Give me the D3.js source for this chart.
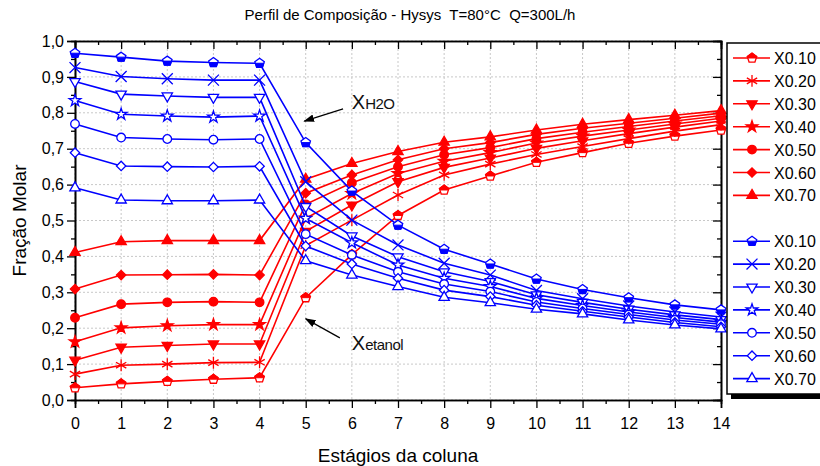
<!DOCTYPE html>
<html>
<head>
<meta charset="utf-8">
<script src="https://cdn.jsdelivr.net/npm/d3@7"></script>
<style>
  body { margin: 0; background: #fff; }
  svg { font-family: "Liberation Sans", Arial, sans-serif; }
  text { white-space: pre; }
</style>
</head>
<body>
<div id="chart"></div>
<script>
// estágios da coluna
const stages = [0, 1, 2, 3, 4, 5, 6, 7, 8, 9, 10, 11, 12, 13, 14];
const seriesLabels = ["X0.10", "X0.20", "X0.30", "X0.40", "X0.50", "X0.60", "X0.70"];
const yTicks = [0, 0.1, 0.2, 0.3, 0.4, 0.5, 0.6, 0.7, 0.8, 0.9, 1.0];

// fração molar de etanol (vermelho)
const etanol10 = [0.034, 0.045, 0.052, 0.058, 0.062, 0.285, 0.405, 0.514, 0.585, 0.624, 0.662, 0.689, 0.715, 0.735, 0.752];
const etanol20 = [0.072, 0.097, 0.100, 0.104, 0.105, 0.430, 0.501, 0.571, 0.627, 0.657, 0.684, 0.706, 0.728, 0.749, 0.767];
const etanol30 = [0.111, 0.147, 0.152, 0.156, 0.156, 0.470, 0.543, 0.608, 0.648, 0.674, 0.701, 0.722, 0.742, 0.760, 0.777];
const etanol40 = [0.162, 0.201, 0.207, 0.210, 0.210, 0.506, 0.575, 0.631, 0.665, 0.689, 0.716, 0.735, 0.752, 0.769, 0.785];
const etanol50 = [0.229, 0.267, 0.272, 0.274, 0.272, 0.545, 0.605, 0.650, 0.683, 0.703, 0.728, 0.746, 0.762, 0.777, 0.792];
const etanol60 = [0.309, 0.348, 0.349, 0.350, 0.348, 0.576, 0.627, 0.669, 0.700, 0.717, 0.740, 0.757, 0.771, 0.785, 0.799];
const etanol70 = [0.411, 0.441, 0.444, 0.444, 0.444, 0.615, 0.659, 0.692, 0.718, 0.733, 0.752, 0.768, 0.781, 0.793, 0.806];

// fração molar de água (azul)
const agua10 = [0.966, 0.955, 0.944, 0.940, 0.938, 0.717, 0.582, 0.487, 0.420, 0.379, 0.337, 0.308, 0.285, 0.265, 0.251];
const agua20 = [0.926, 0.901, 0.895, 0.891, 0.891, 0.608, 0.501, 0.432, 0.381, 0.348, 0.305, 0.282, 0.262, 0.245, 0.231];
const agua30 = [0.887, 0.852, 0.847, 0.843, 0.843, 0.539, 0.457, 0.399, 0.357, 0.330, 0.293, 0.272, 0.253, 0.237, 0.224];
const agua40 = [0.834, 0.796, 0.791, 0.788, 0.791, 0.506, 0.438, 0.376, 0.339, 0.316, 0.283, 0.263, 0.245, 0.230, 0.217];
const agua50 = [0.769, 0.731, 0.727, 0.725, 0.727, 0.462, 0.404, 0.357, 0.323, 0.302, 0.273, 0.255, 0.238, 0.223, 0.211];
const agua60 = [0.689, 0.652, 0.650, 0.649, 0.651, 0.429, 0.379, 0.339, 0.306, 0.288, 0.264, 0.247, 0.231, 0.216, 0.204];
const agua70 = [0.591, 0.557, 0.555, 0.555, 0.557, 0.388, 0.348, 0.316, 0.286, 0.271, 0.253, 0.240, 0.223, 0.209, 0.198];

const etanolSeries = [etanol10, etanol20, etanol30, etanol40, etanol50, etanol60, etanol70];
const aguaSeries = [agua10, agua20, agua30, agua40, agua50, agua60, agua70];

const redMarkers = ["pentTop", "asterisk", "triDown", "star", "circle", "diamond", "triUp"];
const blueMarkers = ["pentBottom", "times", "triDown", "star", "circle", "diamond", "triUp"];
const redFill = [null, null, true, true, true, true, true];
const blueFill = [null, false, false, false, false, false, false];

const RED = "#ff0000", BLUE = "#0000ff";

const W = 820, H = 466;
const margin = { top: 41, right: 99, bottom: 66, left: 75 };
const width = W - margin.left - margin.right;
const height = H - margin.top - margin.bottom;

const svg = d3.select("#chart").append("svg")
    .attr("width", W).attr("height", H);

const g = svg.append("g")
    .attr("transform", "translate(" + margin.left + "," + margin.top + ")");

const x = d3.scaleLinear().domain([0, 14]).range([0, width]);
const y = d3.scaleLinear().domain([0, 1]).range([height, 0]);

const fmt = d => d3.format(".1f")(d).replace(".", ",");

// grid
g.append("g").selectAll("line").data(stages).enter().append("line")
    .attr("x1", d => x(d)).attr("x2", d => x(d))
    .attr("y1", 0).attr("y2", height)
    .attr("stroke", "#c8c8c8").attr("stroke-width", 1).attr("stroke-dasharray", "2,2");
g.append("g").selectAll("line").data(yTicks).enter().append("line")
    .attr("y1", d => y(d)).attr("y2", d => y(d))
    .attr("x1", 0).attr("x2", width)
    .attr("stroke", "#c8c8c8").attr("stroke-width", 1).attr("stroke-dasharray", "2,2");

// axes
const xMinor = d3.range(0.5, 14, 1);
const yMinor = d3.range(0.05, 1, 0.1);

function styleAxis(sel) {
    sel.selectAll("path").attr("stroke", "#000").attr("stroke-width", 1.6);
    sel.selectAll("line").attr("stroke", "#000").attr("stroke-width", 1.3);
    sel.selectAll("text").attr("font-size", 16).attr("fill", "#000")
        .attr("font-family", "Liberation Sans, Arial, sans-serif");
}

g.append("g").attr("transform", "translate(0," + height + ")")
    .call(d3.axisBottom(x).tickValues(xMinor).tickSize(4).tickFormat("")).call(styleAxis);
g.append("g").attr("transform", "translate(0," + height + ")")
    .call(d3.axisBottom(x).tickValues(stages).tickSize(8).tickPadding(10).tickFormat(d3.format("d"))).call(styleAxis);
g.append("g")
    .call(d3.axisLeft(y).tickValues(yMinor).tickSize(4).tickFormat("")).call(styleAxis);
g.append("g")
    .call(d3.axisLeft(y).tickValues(yTicks).tickSize(8).tickPadding(3).tickFormat(fmt)).call(styleAxis);
g.append("g")
    .call(d3.axisTop(x).tickValues(xMinor).tickSize(-4).tickFormat("")).call(styleAxis);
g.append("g")
    .call(d3.axisTop(x).tickValues(stages).tickSize(-8).tickFormat("")).call(styleAxis);
g.append("g").attr("transform", "translate(" + width + ",0)")
    .call(d3.axisRight(y).tickValues(yMinor).tickSize(-4).tickFormat("")).call(styleAxis);
g.append("g").attr("transform", "translate(" + width + ",0)")
    .call(d3.axisRight(y).tickValues(yTicks).tickSize(-8).tickFormat("")).call(styleAxis);

// markers
const sym = (type, size) => d3.symbol().type(type).size(size)();
function pentPts(r) {
    return d3.range(5).map(i => {
        const a = (-90 + i * 72) * Math.PI / 180;
        return [r * Math.cos(a), r * Math.sin(a)];
    });
}
function poly(pts) { return "M" + pts.map(p => p[0].toFixed(2) + "," + p[1].toFixed(2)).join("L") + "Z"; }

function drawMarker(sel, kind, color, filled) {
    const r = 5;
    if (kind === "pentTop" || kind === "pentBottom") {
        const p = pentPts(r);
        sel.append("path").attr("d", poly(p)).attr("fill", "#fff").attr("stroke", color).attr("stroke-width", 1.3);
        const k = 0.851 * r;
        const half = kind === "pentTop"
            ? [p[0], p[1], [k, 0], [-k, 0], p[4]]
            : [[k, 0], p[2], p[3], [-k, 0]];
        sel.append("path").attr("d", poly(half)).attr("fill", color).attr("stroke", color).attr("stroke-width", 1);
        return;
    }
    let d, rot = 0;
    if (kind === "asterisk") d = sym(d3.symbolAsterisk, 100);
    else if (kind === "times") d = sym(d3.symbolTimes, 80);
    else if (kind === "triUp") d = sym(d3.symbolTriangle, 46);
    else if (kind === "triDown") { d = sym(d3.symbolTriangle, 46); rot = 180; }
    else if (kind === "star") d = sym(d3.symbolStar, 42);
    else if (kind === "circle") d = sym(d3.symbolCircle, 58);
    else if (kind === "diamond") { d = sym(d3.symbolSquare, 44); rot = 45; }
    const line = kind === "asterisk" || kind === "times";
    sel.append("path").attr("d", d)
        .attr("transform", rot ? "rotate(" + rot + ")" : null)
        .attr("fill", line ? "none" : (filled ? color : "#fff"))
        .attr("stroke", color).attr("stroke-width", 1.3);
}

const lineGen = d3.line().x((d, i) => x(stages[i])).y(d => y(d));

function drawSeries(series, markers, fills, color) {
    series.forEach(vals => {
        g.append("path").datum(vals)
            .attr("fill", "none").attr("stroke", color).attr("stroke-width", 1.6)
            .attr("d", lineGen);
    });
    series.forEach((vals, k) => {
        g.append("g").selectAll("g").data(vals).enter().append("g")
            .attr("transform", (d, i) => "translate(" + x(stages[i]) + "," + y(d) + ")")
            .each(function () { drawMarker(d3.select(this), markers[k], color, fills[k]); });
    });
}
drawSeries(etanolSeries, redMarkers, redFill, RED);
drawSeries(aguaSeries, blueMarkers, blueFill, BLUE);

// annotations
svg.append("defs").append("marker")
    .attr("id", "arrow").attr("viewBox", "0 0 10 10").attr("refX", 9).attr("refY", 5)
    .attr("markerWidth", 9).attr("markerHeight", 9).attr("orient", "auto")
    .append("path").attr("d", "M0,1.5L10,5L0,8.5Z").attr("fill", "#000");

const annH2O = { text: "X", sub: "H2O", tx: 6.0, ty: 0.81, x1: 5.81, y1: 0.811, x2: 4.97, y2: 0.777 };
const annEt = { text: "X", sub: "etanol", tx: 6.0, ty: 0.139, x1: 5.74, y1: 0.173, x2: 5.0, y2: 0.226 };
[annH2O, annEt].forEach(a => {
    g.append("line")
        .attr("x1", x(a.x1)).attr("y1", y(a.y1)).attr("x2", x(a.x2)).attr("y2", y(a.y2))
        .attr("stroke", "#000").attr("stroke-width", 1.2).attr("marker-end", "url(#arrow)");
    const t = g.append("text").attr("x", x(a.tx)).attr("y", y(a.ty)).attr("fill", "#111");
    t.append("tspan").attr("font-size", 20).text(a.text);
    t.append("tspan").attr("font-size", 15).attr("letter-spacing", -0.5).text(a.sub);
});

// titles
svg.append("text").attr("x", 410).attr("y", 20).attr("text-anchor", "middle")
    .attr("font-size", 15).text("Perfil de Composição - Hysys  T=80°C  Q=300L/h");
svg.append("text").attr("x", margin.left + width / 2).attr("y", 462).attr("text-anchor", "middle")
    .attr("font-size", 19).text("Estágios da coluna");
svg.append("text").attr("transform", "rotate(-90)")
    .attr("x", -(margin.top + height / 2)).attr("y", 26).attr("text-anchor", "middle")
    .attr("font-size", 19).text("Fração Molar");

// legend
const lg = svg.append("g");
lg.append("rect").attr("x", 731).attr("y", 394).attr("width", 100).attr("height", 5).attr("fill", "#000");
lg.append("rect").attr("x", 727).attr("y", 43).attr("width", 110).attr("height", 351)
    .attr("fill", "#fff").attr("stroke", "#000").attr("stroke-width", 1.5);

const legendItems = seriesLabels.map((s, k) => ({ label: s, color: RED, kind: redMarkers[k], fill: redFill[k], row: k }))
    .concat(seriesLabels.map((s, k) => ({ label: s, color: BLUE, kind: blueMarkers[k], fill: blueFill[k], row: k + 8 })));

legendItems.forEach(it => {
    const cy = 58 + it.row * 22.9;
    lg.append("line").attr("x1", 733).attr("x2", 770).attr("y1", cy).attr("y2", cy)
        .attr("stroke", it.color).attr("stroke-width", 1.6);
    const m = lg.append("g").attr("transform", "translate(752," + cy + ")");
    drawMarker(m, it.kind, it.color, it.fill);
    lg.append("text").attr("x", 774).attr("y", cy + 6).attr("font-size", 16).text(it.label);
});
</script>
</body>
</html>
